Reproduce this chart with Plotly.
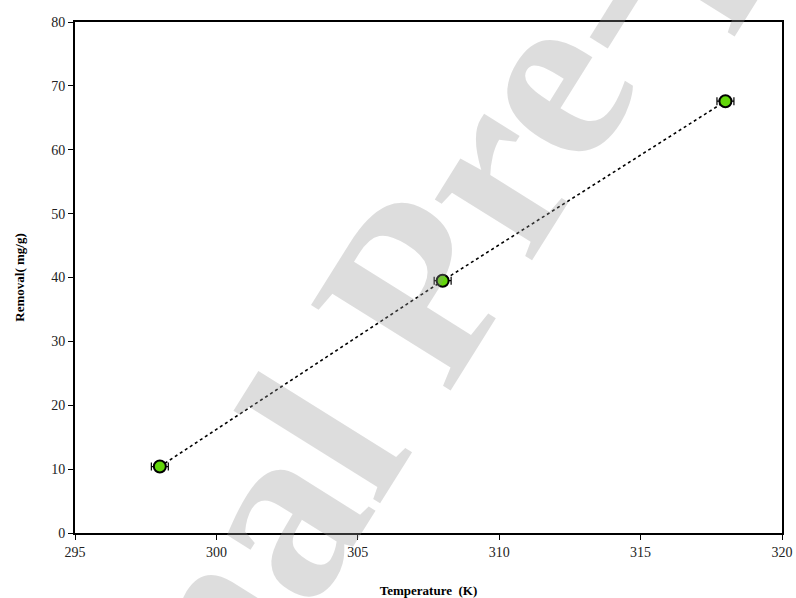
import plotly.graph_objects as go

temperature = [298, 308, 318]
removal = [10.4, 39.5, 67.6]
temp_err = [0.3, 0.3, 0.3]
removal_err = [0.3, 0.4, 0.4]

x_ticks = [295, 300, 305, 310, 315, 320]
y_ticks = [0, 10, 20, 30, 40, 50, 60, 70, 80]

serif = "Liberation Serif, Times New Roman, serif"

fig = go.Figure()
fig.add_trace(go.Scatter(
    x=temperature, y=removal,
    mode="lines+markers",
    line=dict(color="black", width=1.6, dash="dot"),
    marker=dict(size=12, color="#62d60a", line=dict(color="black", width=2)),
    error_x=dict(type="data", array=temp_err, color="black", thickness=1.2, width=4),
    error_y=dict(type="data", array=removal_err, color="black", thickness=1.2, width=4),
    showlegend=False,
))

fig.add_annotation(
    text="<b>Journal Pre-proof</b>",
    xref="paper", yref="paper",
    x=(412 - 75) / 707, y=(532.5 - 292) / 510,
    xanchor="center", yanchor="middle",
    textangle=-58, showarrow=False,
    font=dict(family=serif, size=250, color="rgba(150,150,150,0.32)"),
)

axis_common = dict(
    showline=True, linecolor="black", linewidth=2, mirror=True,
    ticks="outside", ticklen=5, tickwidth=1, tickcolor="black",
    showgrid=False, zeroline=False, automargin=False,
    tickfont=dict(family=serif, size=14, color="#222"),
)

fig.update_xaxes(
    range=[295, 320], tickvals=x_ticks,
    title=dict(text="<b>Temperature  (K)</b>", font=dict(family=serif, size=13, color="black"), standoff=30),
    **axis_common,
)
fig.update_yaxes(
    range=[0, 80], tickvals=y_ticks,
    title=dict(text="<b>Removal( mg/g)</b>", font=dict(family=serif, size=13, color="black"), standoff=24),
    **axis_common,
)

fig.update_layout(
    width=796, height=598,
    margin=dict(l=75, r=14, t=22, b=65),
    plot_bgcolor="white", paper_bgcolor="white",
)

fig.write_html("out.html")
